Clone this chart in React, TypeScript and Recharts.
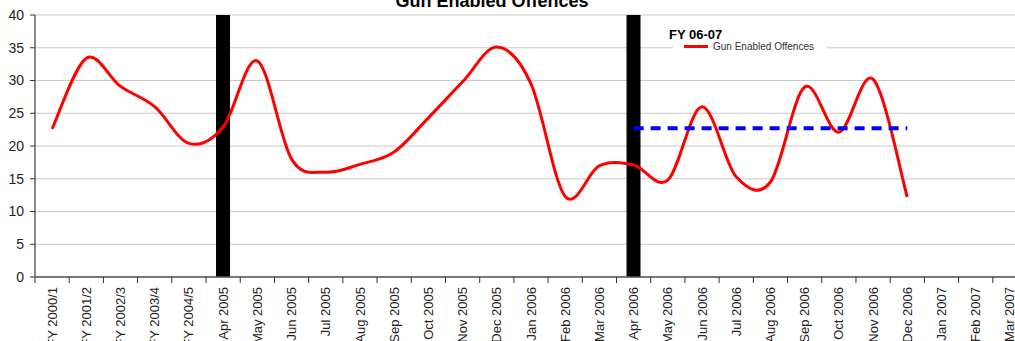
import {
  ComposedChart,
  Bar,
  Line,
  XAxis,
  YAxis,
  CartesianGrid,
  Legend,
} from 'recharts'

const categories = [
  'FY 2000/1', 'FY 2001/2', 'FY 2002/3', 'FY 2003/4', 'FY 2004/5',
  'Apr 2005', 'May 2005', 'Jun 2005', 'Jul 2005', 'Aug 2005', 'Sep 2005',
  'Oct 2005', 'Nov 2005', 'Dec 2005', 'Jan 2006', 'Feb 2006', 'Mar 2006',
  'Apr 2006', 'May 2006', 'Jun 2006', 'Jul 2006', 'Aug 2006', 'Sep 2006',
  'Oct 2006', 'Nov 2006', 'Dec 2006', 'Jan 2007', 'Feb 2007', 'Mar 2007',
]

const offences = [
  22.6, 33.4, 29.1, 26.0, 20.4,
  22.9, 33.0, 18.0, 16.0, 17.2, 19.1,
  24.3, 29.8, 35.1, 29.5, 12.3, 17.0,
  17.1, 14.8, 26.0, 15.3, 14.5, 29.0,
  22.1, 30.2, 12.2, null, null, null,
]

// dashed level across FY 06-07
const target = [
  null, null, null, null, null,
  null, null, null, null, null, null,
  null, null, null, null, null, null,
  22.7, 22.7, 22.7, 22.7, 22.7, 22.7,
  22.7, 22.7, 22.7, null, null, null,
]

// black separators at the start of each financial year
const yearMarkers = [
  null, null, null, null, null,
  40, null, null, null, null, null,
  null, null, null, null, null, null,
  40, null, null, null, null, null,
  null, null, null, null, null, null,
]

const yTicks = [0, 5, 10, 15, 20, 25, 30, 35, 40]

const data = categories.map((period, i) => ({
  period,
  offences: offences[i],
  target: target[i],
  marker: yearMarkers[i],
}))

const FONT = "'Liberation Sans', Arial, sans-serif"
const CHART_W = 1027
const CHART_H = 341
const Y_AXIS_W = 35
const BAND = (CHART_W - Y_AXIS_W) / categories.length

// smoothed line like the spreadsheet one (catmull-rom style beziers)
function smoothCurve(context: any) {
  let pts: number[][] = []
  return {
    areaStart() {},
    areaEnd() {},
    lineStart() {
      pts = []
    },
    point(x: number, y: number) {
      pts.push([+x, +y])
    },
    lineEnd() {
      if (!pts.length) return
      context.moveTo(pts[0][0], pts[0][1])
      for (let i = 0; i < pts.length - 1; i++) {
        const p0 = pts[i - 1] || pts[i]
        const p1 = pts[i]
        const p2 = pts[i + 1]
        const p3 = pts[i + 2] || pts[i + 1]
        context.bezierCurveTo(
          p1[0] + (p2[0] - p0[0]) / 6,
          p1[1] + (p2[1] - p0[1]) / 6,
          p2[0] - (p3[0] - p1[0]) / 6,
          p2[1] - (p3[1] - p1[1]) / 6,
          p2[0],
          p2[1]
        )
      }
    },
  }
}

function CategoryTick({ x, y, payload }: any) {
  return (
    <g transform={`translate(${x},${y})`}>
      <line x1={-BAND / 2} x2={-BAND / 2} y1={0} y2={6} stroke="#333" />
      <text
        transform="rotate(-90)"
        x={-10}
        y={0}
        dy="0.35em"
        textAnchor="end"
        fontSize={13}
        fontFamily={FONT}
        fill="#222"
      >
        {payload.value}
      </text>
    </g>
  )
}

function FyLegend({ payload }: any) {
  const items = (payload || []).filter((p: any) => p.dataKey === 'offences')
  return (
    <div style={{ fontFamily: FONT }}>
      <div style={{ fontSize: 13, fontWeight: 'bold', lineHeight: '15px', color: '#000', marginLeft: -4 }}>
        FY 06-07
      </div>
      {items.map((item: any) => (
        <div
          key={item.value}
          style={{
            display: 'flex',
            alignItems: 'center',
            background: '#fff',
            height: 14,
            width: 153,
            marginTop: -3,
          }}
        >
          <span style={{ display: 'inline-block', width: 24, height: 3, background: item.color, marginLeft: 11 }} />
          <span style={{ fontSize: 10, color: '#333', marginLeft: 5 }}>{item.value}</span>
        </div>
      ))}
    </div>
  )
}

export default function App() {
  return (
    <div
      style={{
        position: 'absolute',
        left: 0,
        top: 0,
        width: 1015,
        height: 341,
        overflow: 'hidden',
        background: '#fff',
      }}
    >
      <div
        style={{
          position: 'absolute',
          left: 0,
          top: -8,
          width: 984,
          textAlign: 'center',
          fontFamily: FONT,
          fontSize: 18,
          fontWeight: 'bold',
          lineHeight: '18px',
          color: '#000',
        }}
      >
        Gun Enabled Offences
      </div>
      <ComposedChart
        width={CHART_W}
        height={CHART_H}
        data={data}
        margin={{ top: 15, right: 0, bottom: 0, left: 0 }}
        barCategoryGap={0}
      >
        <CartesianGrid vertical={false} stroke="#c8c8c8" strokeWidth={1.2} />
        <XAxis
          dataKey="period"
          interval={0}
          height={64}
          tickSize={0}
          tickMargin={0}
          tickLine={false}
          axisLine={{ stroke: '#555', strokeWidth: 1.5 }}
          tick={<CategoryTick />}
        />
        <YAxis
          width={Y_AXIS_W}
          domain={[0, 40]}
          ticks={yTicks}
          interval={0}
          tickSize={5}
          tickMargin={6}
          tickLine={{ stroke: '#333' }}
          axisLine={{ stroke: '#888', strokeWidth: 2 }}
          tick={{ fill: '#222', fontSize: 14, fontFamily: FONT }}
        />
        <Bar
          dataKey="marker"
          fill="#000"
          barSize={14}
          legendType="none"
          isAnimationActive={false}
        />
        <Line
          dataKey="offences"
          name="Gun Enabled Offences"
          type={smoothCurve as any}
          stroke="#ff0000"
          strokeWidth={3}
          dot={false}
          activeDot={false}
          isAnimationActive={false}
        />
        <Line
          dataKey="target"
          type="linear"
          stroke="#0000ff"
          strokeWidth={4}
          strokeDasharray="10 7"
          dot={false}
          activeDot={false}
          legendType="none"
          isAnimationActive={false}
        />
        <Legend
          layout="horizontal"
          verticalAlign="middle"
          align="center"
          wrapperStyle={{ left: 673, top: 27, width: 160 }}
          content={<FyLegend />}
        />
      </ComposedChart>
    </div>
  )
}
